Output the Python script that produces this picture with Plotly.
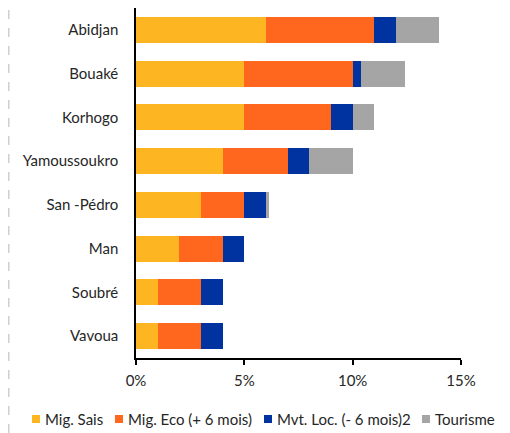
import plotly.graph_objects as go

cities = ["Abidjan", "Bouaké", "Korhogo", "Yamoussoukro", "San -Pédro", "Man", "Soubré", "Vavoua"]
mig_sais = [6, 5, 5, 4, 3, 2, 1, 1]
mig_eco = [5, 5, 4, 3, 2, 2, 2, 2]
mvt_loc = [1, 0.4, 1, 1, 1, 1, 1, 1]
tourisme = [2, 2, 1, 2, 0.12, 0, 0, 0]
series_names = ["Mig. Sais", "Mig. Eco (+ 6 mois)", "Mvt. Loc. (- 6 mois)2", "Tourisme"]
series_colors = ["#FDB521", "#FF671F", "#0033A0", "#A5A5A5"]
x_ticks = [0, 5, 10, 15]
x_tick_labels = ["0%", "5%", "10%", "15%"]

FONT = "Lato"
TXT = "#262626"
FS = 15

# page body adds an 8px offset; figure is sized to fit the window
W, H = 502, 425
L, R, T, B = 128, 49, 0, 75
PW, PH = W - L - R, H - T - B

fig = go.Figure()
for name, vals, col in zip(series_names, [mig_sais, mig_eco, mvt_loc, tourisme], series_colors):
    fig.add_trace(go.Bar(y=cities, x=vals, name=name, orientation="h",
                         marker=dict(color=col, line=dict(width=0)), showlegend=False))

fig.update_layout(
    barmode="stack",
    bargap=0.41,
    width=W, height=H,
    margin=dict(l=L, r=R, t=T, b=B, autoexpand=False),
    plot_bgcolor="white", paper_bgcolor="white",
    font=dict(family=FONT, size=FS, color=TXT),
    xaxis=dict(range=[0, 15], tickvals=x_ticks, ticktext=x_tick_labels, automargin=False,
               showgrid=False, zeroline=False, showline=True, linecolor="black", linewidth=1.5,
               ticks="outside", ticklen=5, tickcolor="black", tickwidth=1.5,
               ticklabelstandoff=3, tickfont=dict(size=FS, color=TXT)),
    yaxis=dict(autorange="reversed", showgrid=False, zeroline=False, showline=True, automargin=False,
               linecolor="black", linewidth=1.5, ticks="", ticklabelstandoff=13,
               tickfont=dict(size=FS, color=TXT)),
)

def px_x(x):
    return (x - L) / PW

def px_y(y):
    return (H - B - y) / PH

# dashed frame line on the left
fig.add_shape(type="line", xref="paper", yref="paper", x0=px_x(0.75), x1=px_x(0.75),
              y0=px_y(H), y1=px_y(0), line=dict(color="#CFCFCF", width=1.5, dash="dash"))

# manual legend
leg_x = [24, 107, 256, 414]
for name, col, lx in zip(series_names, series_colors, leg_x):
    fig.add_shape(type="rect", xref="paper", yref="paper", x0=px_x(lx), x1=px_x(lx + 8),
                  y0=px_y(407), y1=px_y(415), fillcolor=col, line=dict(width=0))
    fig.add_annotation(xref="paper", yref="paper", x=px_x(lx + 11), y=px_y(411),
                       text=name, showarrow=False, xanchor="left", yanchor="middle",
                       font=dict(family=FONT, size=FS, color=TXT))

fig.write_html("out.html")
